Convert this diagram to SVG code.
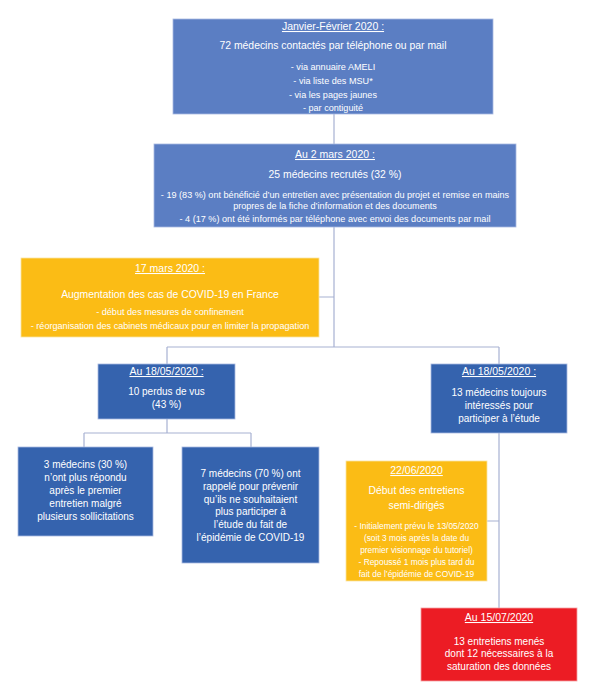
<svg xmlns="http://www.w3.org/2000/svg" width="595" height="700" viewBox="0 0 595 700">
<style>
text{font-family:"Liberation Sans",Arial,sans-serif;fill:#fff;text-anchor:middle}
.t{font-size:10.5px;text-decoration:underline}
.m{font-size:10.4px}
.b{font-size:9.1px}
.s{font-size:10px}
.y{font-size:8.4px}
.lb{fill:#5b7ec3;stroke:#a9b9e0;stroke-width:0.8}
.db{fill:#3563ae;stroke:#a9b9e0;stroke-width:0.8}
.yl{fill:#fbbc15;stroke:#fbe3a0;stroke-width:0.8}
.rd{fill:#ec1c24;stroke:#f4a0a3;stroke-width:0.8}
.c{stroke:#a7b1d2;stroke-width:1.2;fill:none}
</style>
<rect width="595" height="700" fill="#fff"/>
<g id="connectors">
<path class="c" d="M334 114V347M319 297H334M167 347H499M167 347V364M499 347V364M167 419V433M84 433H251M84 433V447M251 433V447M499 433V608M487 521H499"/>
</g>
<g id="n1">
<rect class="lb" x="173" y="19" width="320" height="95"/>
<text class="t" x="333" y="30">Janvier-Février 2020 :</text>
<text class="m" x="333" y="49">72 médecins contactés par téléphone ou par mail</text>
<text class="b" x="333" y="70">- via annuaire AMELI</text>
<text class="b" x="333" y="84">- via liste des MSU*</text>
<text class="b" x="333" y="98">- via les pages jaunes</text>
<text class="b" x="333" y="111">- par contiguité</text>
</g>
<g id="n2">
<rect class="lb" x="154" y="144" width="362" height="83"/>
<text class="t" x="335" y="158">Au 2 mars 2020 :</text>
<text class="m" x="335" y="178">25 médecins recrutés (32 %)</text>
<text class="b" x="335" y="198">- 19 (83 %) ont bénéficié d’un entretien avec présentation du projet et remise en mains</text>
<text class="b" x="335" y="209">propres de la fiche d’information et des documents</text>
<text class="b" x="335" y="222">- 4 (17 %) ont été informés par téléphone avec envoi des documents par mail</text>
</g>
<g id="n3">
<rect class="yl" x="21" y="258" width="298" height="79"/>
<text class="t" x="170" y="272">17 mars 2020 :</text>
<text class="m" x="170" y="298">Augmentation des cas de COVID-19 en France</text>
<text class="b" x="170" y="315">- début des mesures de confinement</text>
<text class="b" x="170" y="329">- réorganisation des cabinets médicaux pour en limiter la propagation</text>
</g>
<g id="n4">
<rect class="db" x="98" y="364" width="137" height="55"/>
<text class="t" x="166.5" y="375">Au 18/05/2020 :</text>
<text class="s" x="166.5" y="395">10 perdus de vus</text>
<text class="s" x="166.5" y="408">(43 %)</text>
</g>
<g id="n5">
<rect class="db" x="431" y="364" width="136" height="69"/>
<text class="t" x="499" y="375">Au 18/05/2020 :</text>
<text class="s" x="499" y="396">13 médecins toujours</text>
<text class="s" x="499" y="409">intéressés pour</text>
<text class="s" x="499" y="422">participer à l’étude</text>
</g>
<g id="n6">
<rect class="db" x="18" y="447" width="135" height="89"/>
<text class="s" x="85.5" y="468">3 médecins (30 %)</text>
<text class="s" x="85.5" y="481">n’ont plus répondu</text>
<text class="s" x="85.5" y="494">après le premier</text>
<text class="s" x="85.5" y="507">entretien malgré</text>
<text class="s" x="85.5" y="520">plusieurs sollicitations</text>
</g>
<g id="n7">
<rect class="db" x="182" y="447" width="137" height="116"/>
<text class="s" x="250.5" y="477">7 médecins (70 %) ont</text>
<text class="s" x="250.5" y="490">rappelé pour prévenir</text>
<text class="s" x="250.5" y="503">qu’ils ne souhaitaient</text>
<text class="s" x="250.5" y="515">plus participer à</text>
<text class="s" x="250.5" y="528">l’étude du fait de</text>
<text class="s" x="250.5" y="541">l’épidémie de COVID-19</text>
</g>
<g id="n8">
<rect class="yl" x="346" y="461" width="141" height="120"/>
<text class="t" x="416.5" y="474">22/06/2020</text>
<text class="m" x="416.5" y="494">Début des entretiens</text>
<text class="m" x="416.5" y="509">semi-dirigés</text>
<text class="y" x="416.5" y="529">- Initialement prévu le 13/05/2020</text>
<text class="y" x="416.5" y="541">(soit 3 mois après la date du</text>
<text class="y" x="416.5" y="553">premier visionnage du tutoriel)</text>
<text class="y" x="416.5" y="565">- Repoussé 1 mois plus tard du</text>
<text class="y" x="416.5" y="577">fait de l’épidémie de COVID-19</text>
</g>
<g id="n9">
<rect class="rd" x="421" y="608" width="156" height="73"/>
<text class="t" x="499" y="621">Au 15/07/2020</text>
<text class="s" x="499" y="645">13 entretiens menés</text>
<text class="s" x="499" y="657">dont 12 nécessaires à la</text>
<text class="s" x="499" y="670">saturation des données</text>
</g>
</svg>
